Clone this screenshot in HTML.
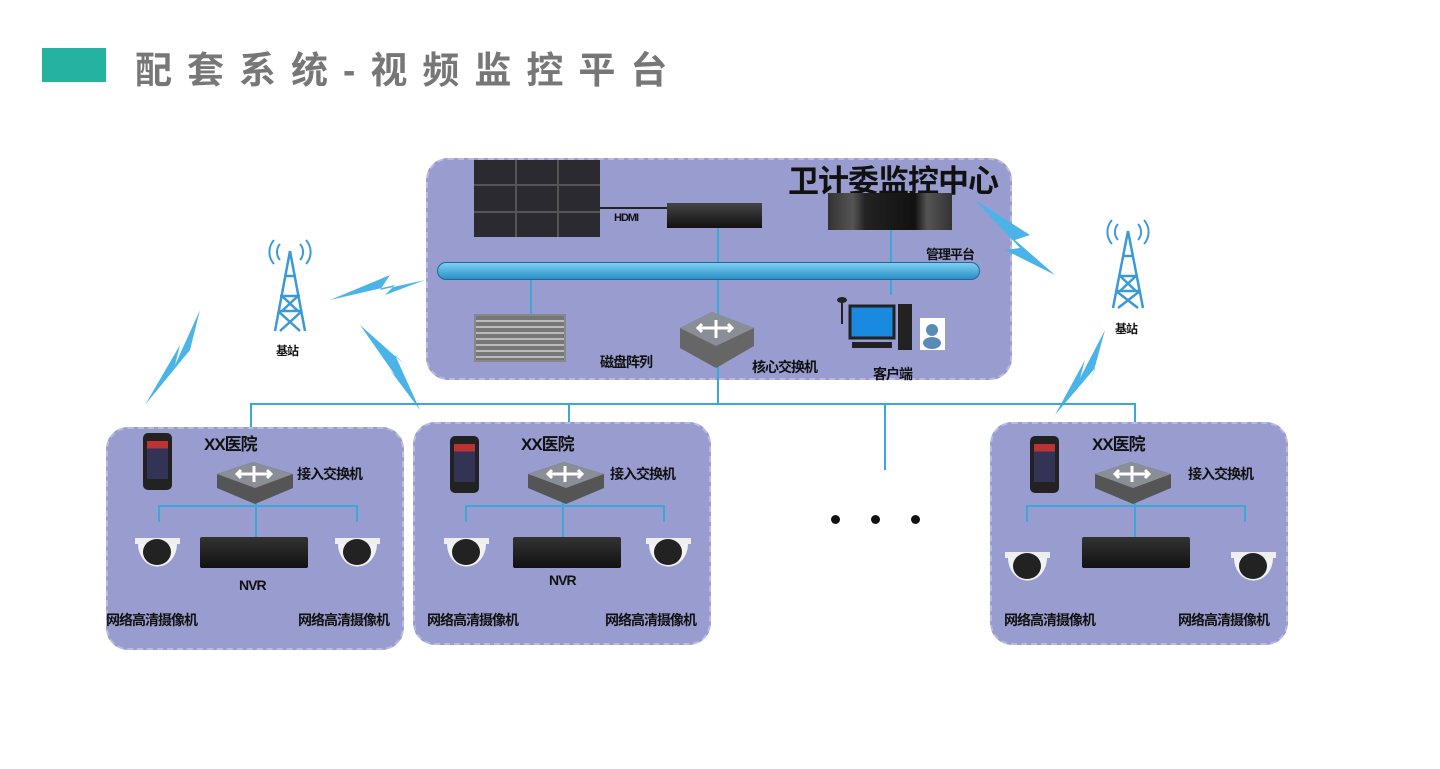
<!DOCTYPE html>
<html><head><meta charset="utf-8"><style>
*{margin:0;padding:0;box-sizing:border-box}
body{width:1440px;height:769px;background:#fff;position:relative;overflow:hidden;font-family:"Liberation Sans","Noto Sans CJK SC",sans-serif}
.a{position:absolute}
.box{position:absolute;background:#989ccf;border:2px dashed #b8bbe0;border-radius:22px}
.t{position:absolute;font-weight:bold;color:#111;font-size:14px;white-space:nowrap;letter-spacing:-1px}
.ln{position:absolute;background:#3aa8d8}
.grp{position:absolute;width:300px;height:225px}
.sw{position:absolute;width:80px;height:45px}
.cam{position:absolute;width:55px;height:50px}
.nvr{position:absolute;width:108px;height:31px;background:linear-gradient(#333,#111);border-radius:2px}
.phone{position:absolute;width:29px;height:57px;background:#222;border-radius:5px}
.phone:after{content:"";position:absolute;left:4px;top:8px;width:21px;height:38px;background:linear-gradient(#b33 0 20%,#335 20%)}
</style></head><body>
<div class="a" style="left:42px;top:48px;width:64px;height:34px;background:#25b2a0"></div>
<div class="a" style="left:135px;top:40px;font-size:37px;font-weight:bold;color:#777;letter-spacing:15px;white-space:nowrap">配套系统-视频监控平台</div>

<div class="box" style="left:426px;top:158px;width:586px;height:222px"></div>
<div class="a" style="left:474px;top:160px;width:126px;height:77px;display:grid;grid-template-columns:repeat(3,1fr);gap:2px;background:#555">
<div style="background:#2a2a30"></div><div style="background:#2a2a30"></div><div style="background:#2a2a30"></div><div style="background:#2a2a30"></div><div style="background:#2a2a30"></div><div style="background:#2a2a30"></div><div style="background:#2a2a30"></div><div style="background:#2a2a30"></div><div style="background:#2a2a30"></div></div>
<div class="a" style="left:600px;top:207px;width:67px;height:2px;background:#222"></div>
<div class="t" style="left:614px;top:212px;font-size:11px">HDMI</div>
<div class="a" style="left:667px;top:203px;width:95px;height:25px;background:linear-gradient(#444,#111)"></div>
<div class="t" style="left:788px;top:156px;font-size:31px;letter-spacing:-1px">卫计委监控中心</div>
<div class="a" style="left:828px;top:193px;width:124px;height:37px;background:linear-gradient(90deg,#333,#555 20%,#222 30%,#111 70%,#555 80%,#333)"></div>
<div class="t" style="left:926px;top:244px;font-size:13px">管理平台</div>
<div class="ln" style="left:530px;top:280px;width:2px;height:34px"></div>
<div class="ln" style="left:717px;top:228px;width:2px;height:176px"></div>
<div class="ln" style="left:890px;top:230px;width:2px;height:65px"></div>
<div class="a" style="left:437px;top:262px;width:543px;height:18px;border-radius:9px;background:linear-gradient(#7cd0f0,#2a8fc8);border:1px solid #1c6a9a"></div>
<div class="a" style="left:474px;top:314px;width:92px;height:48px;background:repeating-linear-gradient(#777 0 4px,#bbb 4px 6px);border:2px solid #888"></div>
<div class="t" style="left:600px;top:352px">磁盘阵列</div>
<svg class="a" style="left:672px;top:310px" width="86" height="62"><polygon points="8,18 40,2 82,18 82,36 44,58 8,38" fill="#666"/><polygon points="8,18 40,2 82,18 44,36" fill="#8a8e96"/><path d="M28,18h30M44,10v18M30,14l-4,4 4,4M56,14l4,4-4,4" stroke="#fff" stroke-width="3" fill="none"/></svg>
<div class="t" style="left:752px;top:357px">核心交换机</div>
<svg class="a" style="left:828px;top:292px" width="120" height="60"><path d="M14,8v24" stroke="#222" stroke-width="2"/><ellipse cx="14" cy="8" rx="5" ry="3" fill="#222"/><rect x="22" y="14" width="44" height="32" fill="#1a8ae0" stroke="#222" stroke-width="3"/><rect x="70" y="12" width="14" height="46" fill="#222"/><rect x="24" y="50" width="40" height="6" fill="#222"/><rect x="92" y="26" width="25" height="32" fill="#fff"/><circle cx="104" cy="38" r="6" fill="#5a8ab8"/><ellipse cx="104" cy="51" rx="9" ry="6" fill="#5a8ab8"/></svg>
<div class="t" style="left:873px;top:364px">客户端</div>

<svg class="a" style="left:250px;top:236px" width="80" height="100"><path d="M40,15L25,95M40,15L55,95M30,60h20M28,75h24M34,40h12M28,75L50,95M52,75L30,95M32,60L48,75M48,60L32,75" stroke="#3a9ad8" stroke-width="2.5" fill="none"/><path d="M30,8a12,12 0 0 0 0,16M50,8a12,12 0 0 1 0,16M24,4a18,18 0 0 0 0,24M56,4a18,18 0 0 1 0,24" stroke="#3a9ad8" stroke-width="2" fill="none"/></svg>
<div class="t" style="left:276px;top:342px;font-size:12px">基站</div>
<svg class="a" style="left:1088px;top:216px" width="80" height="100"><path d="M40,15L25,92M40,15L55,92M30,60h20M28,75h24M34,40h12M28,75L50,92M52,75L30,92M32,60L48,75M48,60L32,75" stroke="#3a9ad8" stroke-width="2.5" fill="none"/><path d="M30,8a12,12 0 0 0 0,16M50,8a12,12 0 0 1 0,16M24,4a18,18 0 0 0 0,24M56,4a18,18 0 0 1 0,24" stroke="#3a9ad8" stroke-width="2" fill="none"/></svg>
<div class="t" style="left:1115px;top:320px;font-size:12px">基站</div>

<svg class="a" style="left:0;top:0" width="1440" height="769">
<g fill="#4ab4e8">
<polygon points="330,300 390,275 380,290 425,280 385,295 395,285"/>
<polygon points="145,405 180,345 175,365 200,310 185,370 190,350"/>
<polygon points="360,325 405,365 395,355 420,410 390,370 395,375"/>
<polygon points="975,200 1030,235 1015,240 1055,275 1005,250 1020,248"/>
<polygon points="1055,415 1085,360 1080,378 1105,330 1090,385 1095,368"/>
</g>
</svg>

<div class="ln" style="left:250px;top:403px;width:886px;height:2px"></div>
<div class="ln" style="left:250px;top:403px;width:2px;height:37px"></div>
<div class="ln" style="left:568px;top:403px;width:2px;height:37px"></div>
<div class="ln" style="left:884px;top:403px;width:2px;height:67px"></div>
<div class="ln" style="left:1134px;top:403px;width:2px;height:37px"></div>

<div class="a" style="left:831px;top:515px;width:9px;height:9px;border-radius:50%;background:#111"></div>
<div class="a" style="left:871px;top:515px;width:9px;height:9px;border-radius:50%;background:#111"></div>
<div class="a" style="left:911px;top:515px;width:9px;height:9px;border-radius:50%;background:#111"></div>

<div class="box" style="left:106px;top:427px;width:298px;height:223px"></div>
<div class="box" style="left:413px;top:422px;width:298px;height:223px"></div>
<div class="box" style="left:990px;top:422px;width:298px;height:223px"></div>

<div class="grp" style="left:106px;top:427px">
<div class="phone" style="left:37px;top:6px"></div>
<div class="t" style="left:98px;top:3px;font-size:17px">XX医院</div>
<div class="ln" style="left:52px;top:78px;width:198px;height:2px"></div>
<div class="ln" style="left:52px;top:78px;width:2px;height:17px"></div>
<div class="ln" style="left:250px;top:78px;width:2px;height:17px"></div>
<div class="ln" style="left:149px;top:70px;width:2px;height:40px"></div>
<svg class="sw" style="left:109px;top:33px" viewBox="0 0 80 45"><polygon points="2,14 38,2 78,14 78,28 40,44 2,28" fill="#555"/><polygon points="2,14 38,2 78,14 40,28" fill="#8a8e96"/><path d="M22,14h34M39,6v16M26,10l-4,4 4,4M52,10l4,4-4,4" stroke="#fff" stroke-width="3" fill="none"/></svg>
<div class="t" style="left:191px;top:37px">接入交换机</div>
<svg class="cam" style="left:24px;top:93px" viewBox="0 0 55 50"><path d="M5,18h45v6H5z" fill="#eee"/><path d="M8,24h39a19,22 0 0 1-39,0z" fill="#f2f2f2"/><ellipse cx="27" cy="32" rx="14" ry="13" fill="#222"/></svg>
<svg class="cam" style="left:224px;top:93px" viewBox="0 0 55 50"><path d="M5,18h45v6H5z" fill="#eee"/><path d="M8,24h39a19,22 0 0 1-39,0z" fill="#f2f2f2"/><ellipse cx="27" cy="32" rx="14" ry="13" fill="#222"/></svg>
<div class="nvr" style="left:94px;top:110px"></div>
<div class="t" style="left:133px;top:150px">NVR</div>
<div class="t" style="left:0px;top:183px">网络高清摄像机</div>
<div class="t" style="left:192px;top:183px">网络高清摄像机</div>
</div>

<div class="grp" style="left:413px;top:422px">
<div class="phone" style="left:37px;top:14px"></div>
<div class="t" style="left:108px;top:8px;font-size:17px">XX医院</div>
<div class="ln" style="left:52px;top:83px;width:198px;height:2px"></div>
<div class="ln" style="left:52px;top:83px;width:2px;height:17px"></div>
<div class="ln" style="left:250px;top:83px;width:2px;height:17px"></div>
<div class="ln" style="left:149px;top:75px;width:2px;height:40px"></div>
<svg class="sw" style="left:113px;top:38px" viewBox="0 0 80 45"><polygon points="2,14 38,2 78,14 78,28 40,44 2,28" fill="#555"/><polygon points="2,14 38,2 78,14 40,28" fill="#8a8e96"/><path d="M22,14h34M39,6v16M26,10l-4,4 4,4M52,10l4,4-4,4" stroke="#fff" stroke-width="3" fill="none"/></svg>
<div class="t" style="left:197px;top:42px">接入交换机</div>
<svg class="cam" style="left:26px;top:98px" viewBox="0 0 55 50"><path d="M5,18h45v6H5z" fill="#eee"/><path d="M8,24h39a19,22 0 0 1-39,0z" fill="#f2f2f2"/><ellipse cx="27" cy="32" rx="14" ry="13" fill="#222"/></svg>
<svg class="cam" style="left:228px;top:98px" viewBox="0 0 55 50"><path d="M5,18h45v6H5z" fill="#eee"/><path d="M8,24h39a19,22 0 0 1-39,0z" fill="#f2f2f2"/><ellipse cx="27" cy="32" rx="14" ry="13" fill="#222"/></svg>
<div class="nvr" style="left:100px;top:115px"></div>
<div class="t" style="left:136px;top:150px">NVR</div>
<div class="t" style="left:14px;top:188px">网络高清摄像机</div>
<div class="t" style="left:192px;top:188px">网络高清摄像机</div>
</div>

<div class="grp" style="left:990px;top:422px">
<div class="phone" style="left:40px;top:14px"></div>
<div class="t" style="left:102px;top:8px;font-size:17px">XX医院</div>
<div class="ln" style="left:36px;top:83px;width:218px;height:2px"></div>
<div class="ln" style="left:36px;top:83px;width:2px;height:17px"></div>
<div class="ln" style="left:254px;top:83px;width:2px;height:17px"></div>
<div class="ln" style="left:144px;top:75px;width:2px;height:40px"></div>
<svg class="sw" style="left:103px;top:38px" viewBox="0 0 80 45"><polygon points="2,14 38,2 78,14 78,28 40,44 2,28" fill="#555"/><polygon points="2,14 38,2 78,14 40,28" fill="#8a8e96"/><path d="M22,14h34M39,6v16M26,10l-4,4 4,4M52,10l4,4-4,4" stroke="#fff" stroke-width="3" fill="none"/></svg>
<div class="t" style="left:198px;top:42px">接入交换机</div>
<svg class="cam" style="left:10px;top:112px" viewBox="0 0 55 50"><path d="M5,18h45v6H5z" fill="#eee"/><path d="M8,24h39a19,22 0 0 1-39,0z" fill="#f2f2f2"/><ellipse cx="27" cy="32" rx="14" ry="13" fill="#222"/></svg>
<svg class="cam" style="left:236px;top:112px" viewBox="0 0 55 50"><path d="M5,18h45v6H5z" fill="#eee"/><path d="M8,24h39a19,22 0 0 1-39,0z" fill="#f2f2f2"/><ellipse cx="27" cy="32" rx="14" ry="13" fill="#222"/></svg>
<div class="nvr" style="left:92px;top:115px"></div>
<div class="t" style="left:14px;top:188px">网络高清摄像机</div>
<div class="t" style="left:188px;top:188px">网络高清摄像机</div>
</div>
</body></html>
